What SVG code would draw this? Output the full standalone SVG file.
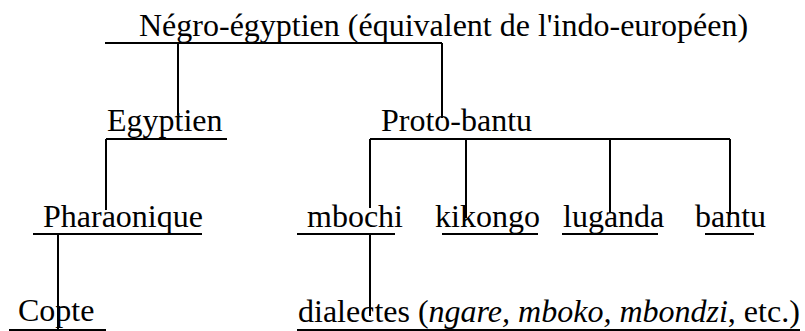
<svg xmlns="http://www.w3.org/2000/svg" width="805" height="331" viewBox="0 0 805 331">
<style>
text{font-family:"Liberation Serif","Times New Roman",serif;font-size:32px;fill:#000}
line{stroke:#000;stroke-width:2}
.i{font-style:italic}
</style>
<rect width="805" height="331" fill="#fff"/>
<g id="connectors">
<line x1="178" y1="43" x2="178" y2="115"/>
<line x1="442" y1="43" x2="442" y2="118"/>
<line x1="106" y1="139" x2="106" y2="210"/>
<line x1="370" y1="139" x2="730" y2="139"/>
<line x1="370" y1="139" x2="370" y2="208"/>
<line x1="466" y1="139" x2="466" y2="218"/>
<line x1="610" y1="139" x2="610" y2="213"/>
<line x1="730" y1="139" x2="730" y2="215"/>
<line x1="58" y1="234" x2="58" y2="330"/>
<line x1="370" y1="234" x2="370" y2="316"/>
</g>
<g id="negro-egyptien">
<text x="139" y="36">Négro-égyptien (équivalent de l'indo-européen)</text>
<line x1="105" y1="43" x2="442" y2="43"/>
</g>
<g id="egyptien">
<text x="107" y="131">Egyptien</text>
<line x1="106" y1="139" x2="227" y2="139"/>
</g>
<g id="proto-bantu">
<text x="381" y="131">Proto-bantu</text>
</g>
<g id="pharaonique">
<text x="43" y="227">Pharaonique</text>
<line x1="33" y1="234" x2="202" y2="234"/>
</g>
<g id="mbochi">
<text x="307" y="227">mbochi</text>
<line x1="297" y1="234" x2="395" y2="234"/>
</g>
<g id="kikongo">
<text x="435" y="227">kikongo</text>
<line x1="442" y1="234" x2="538" y2="234"/>
</g>
<g id="luganda">
<text x="563" y="227">luganda</text>
<line x1="562" y1="234" x2="658" y2="234"/>
</g>
<g id="bantu">
<text x="695" y="227">bantu</text>
<line x1="705" y1="234" x2="754" y2="234"/>
</g>
<g id="copte">
<text x="18" y="321">Copte</text>
<line x1="9" y1="330" x2="106" y2="330"/>
</g>
<g id="dialectes">
<text x="298" y="322">dialectes (<tspan class="i">ngare, mboko, mbondzi</tspan>, etc.)</text>
<line x1="297" y1="330" x2="800" y2="330"/>
</g>
</svg>
